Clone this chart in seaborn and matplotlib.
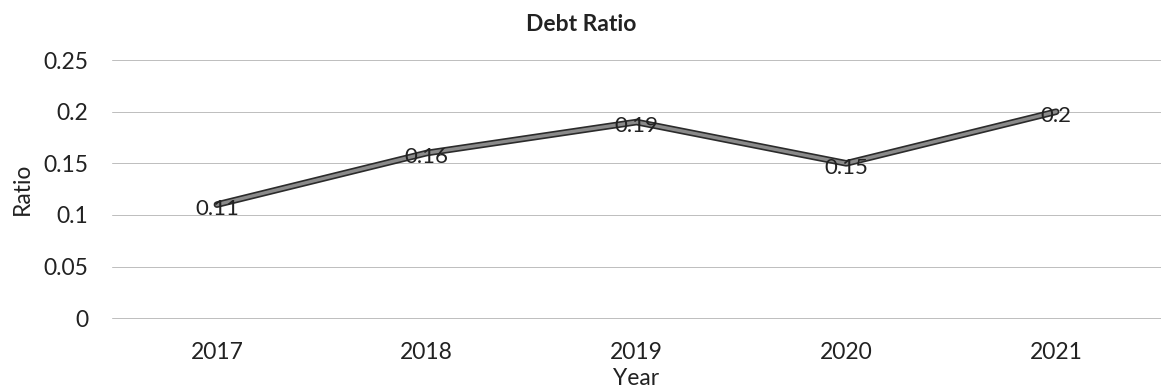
import matplotlib
matplotlib.use("Agg")
import matplotlib.pyplot as plt
import matplotlib.patheffects as pe
import seaborn as sns
import pandas as pd

years = ["2017", "2018", "2019", "2020", "2021"]
debt_ratio = [0.11, 0.16, 0.19, 0.15, 0.2]
y_ticks = [0, 0.05, 0.1, 0.15, 0.2, 0.25]
y_tick_labels = ["0", "0.05", "0.1", "0.15", "0.2", "0.25"]

sns.set_theme(style="white")
plt.rcParams["font.family"] = ["Lato", "DejaVu Sans"]

df = pd.DataFrame({"Year": years, "Ratio": debt_ratio})

fig = plt.figure(figsize=(11.61, 3.88), dpi=100)
ax = fig.add_axes([0.0965, 0.180, 0.9035, 0.665])

sns.lineplot(data=df, x="Year", y="Ratio", ax=ax, color="#8a8a8a", linewidth=2.4,
             sort=False, zorder=3,
             path_effects=[pe.Stroke(linewidth=4.8, foreground="#2b2b2b"), pe.Normal()])

# value labels sit just below each point
for i, v in enumerate(debt_ratio):
    ax.annotate(f"{v:g}", (i, v), xytext=(0, -3), textcoords="offset points",
                ha="center", va="center", fontsize=16, color="#222222", zorder=4)

ax.set_xlim(-0.5, len(years) - 0.5)
ax.set_ylim(0, 0.25)
ax.set_yticks(y_ticks)
ax.set_yticklabels(y_tick_labels)
ax.yaxis.grid(True, color="#bdbdbd", linewidth=0.7, clip_on=False)
ax.xaxis.grid(False)
for s in ax.spines.values():
    s.set_visible(False)

ax.tick_params(axis="y", labelsize=16.5, pad=17, length=0, labelcolor="#222222")
ax.tick_params(axis="x", labelsize=16.5, pad=17, length=0, labelcolor="#222222")

ax.set_xlabel("Year", fontsize=16.5, color="#222222")
ax.xaxis.set_label_coords(0.5, -0.195)
ax.set_ylabel("Ratio", fontsize=16.5, color="#222222")
ax.yaxis.set_label_coords(-0.075, 0.5)
ax.set_title("Debt Ratio", fontsize=16.5, fontweight="bold", color="#222222",
             x=0.447, y=1.0, pad=21)

fig.savefig("out.png", dpi=100, facecolor="white")
